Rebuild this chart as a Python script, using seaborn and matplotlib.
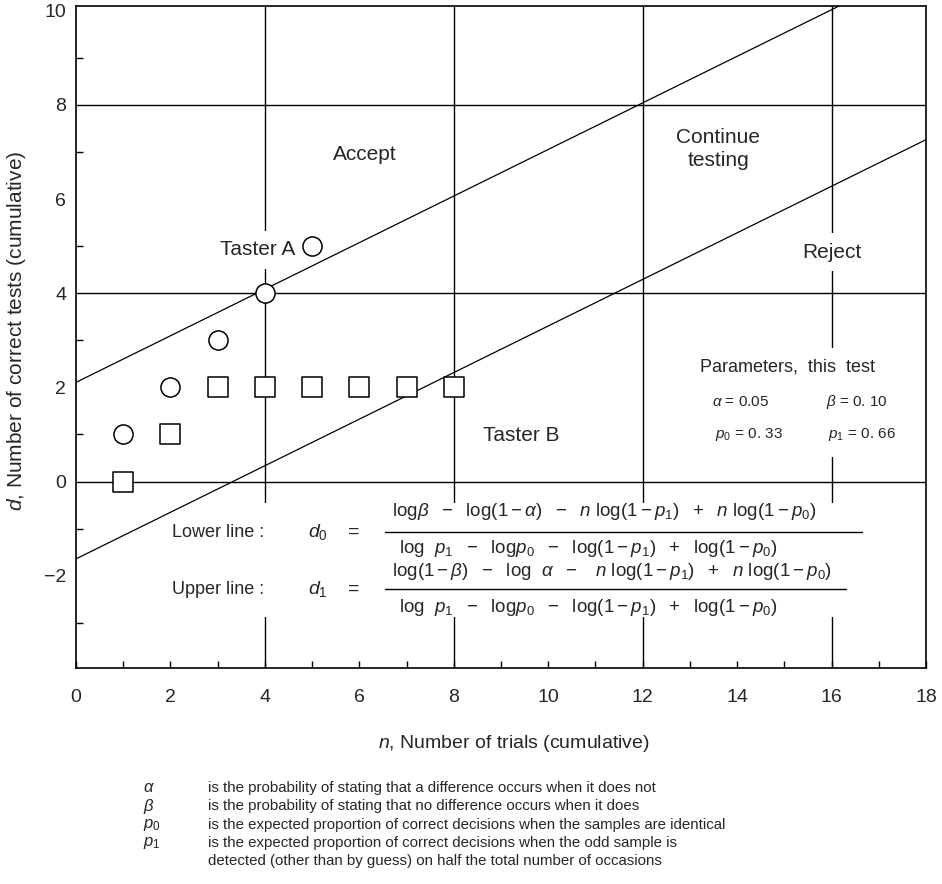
import numpy as np
import pandas as pd
import matplotlib
matplotlib.use("Agg")
import matplotlib.pyplot as plt
from matplotlib.ticker import MultipleLocator, FixedLocator
import seaborn as sns

# Test parameters
alpha = 0.05
beta = 0.10
p0 = 0.33
p1 = 0.66

# Cumulative results of the two tasters
taster_a_trials = [1, 2, 3, 4, 5]
taster_a_correct = [1, 2, 3, 4, 5]
taster_b_trials = [1, 2, 3, 4, 5, 6, 7, 8]
taster_b_correct = [0, 1, 2, 2, 2, 2, 2, 2]

# Axis ticks
x_tick_labels = [0, 2, 4, 6, 8, 10, 12, 14, 16, 18]
y_tick_labels = [-2, 0, 2, 4, 6, 8, 10]
y_minor_ticks = [-3, -2, -1, 1, 3, 5, 7, 9]
x_grid = [4, 8, 12, 16]
y_grid = [0, 4, 8]

sns.set_theme(style="white")
plt.rcParams["font.family"] = ["Liberation Sans", "DejaVu Sans"]
plt.rcParams["mathtext.fontset"] = "custom"
plt.rcParams["mathtext.rm"] = "Liberation Sans"
plt.rcParams["mathtext.it"] = "Liberation Sans:italic"
plt.rcParams["mathtext.bf"] = "Liberation Sans:bold"

# Decision boundaries of the sequential test (log10)
den = np.log10(p1) - np.log10(p0) - np.log10(1 - p1) + np.log10(1 - p0)
slope = (np.log10(1 - p0) - np.log10(1 - p1)) / den
icpt_lower = (np.log10(beta) - np.log10(1 - alpha)) / den
icpt_upper = (np.log10(1 - beta) - np.log10(alpha)) / den
n_ends = np.array([0.0, 18.0])
lines = pd.DataFrame({
    "n": np.concatenate([n_ends, n_ends]),
    "d": np.concatenate([icpt_lower + slope * n_ends, icpt_upper + slope * n_ends]),
    "line": ["lower"] * 2 + ["upper"] * 2,
})

fig = plt.figure(figsize=(9.42, 8.84), dpi=100)
ax = fig.add_axes([0.0807, 0.2443, 0.9023, 0.7489])
ax.set_xlim(0, 18)
ax.set_ylim(-3.96, 10.10)

for x in x_grid:
    ax.axvline(x, color="black", lw=1.0, zorder=1)
for y in y_grid:
    ax.axhline(y, color="black", lw=1.0, zorder=1)

# white masks behind the formula and parameter blocks
ax.axhspan(-2.88, -0.46, xmin=0.17, xmax=0.985, color="white", lw=0, zorder=1.5)
ax.axhspan(0.52, 2.84, xmin=0.74, xmax=0.985, color="white", lw=0, zorder=1.5)

sns.lineplot(data=lines, x="n", y="d", units="line", estimator=None,
             color="black", lw=0.9, ax=ax, zorder=3, legend=False)

sns.scatterplot(x=taster_a_trials, y=taster_a_correct, marker="o", s=190,
                facecolor="white", edgecolor="black", linewidth=1.1, ax=ax, zorder=4)
sns.scatterplot(x=taster_b_trials, y=taster_b_correct, marker="s", s=190,
                facecolor="white", edgecolor="black", linewidth=1.1, ax=ax, zorder=4)

mask = dict(boxstyle="square,pad=0.45", fc="white", ec="none")
big = 15
ax.text(6.12, 6.94, "Accept", fontsize=big, ha="center", va="center", zorder=2)
ax.text(13.6, 7.06, "Continue\ntesting", fontsize=big, ha="center", va="center",
        linespacing=1.25, zorder=2)
ax.text(16.0, 4.87, "Reject", fontsize=big, ha="center", va="center", bbox=mask, zorder=2)
ax.text(3.85, 4.92, "Taster A", fontsize=big, ha="center", va="center", bbox=mask, zorder=2)
ax.text(9.42, 0.97, "Taster B", fontsize=big, ha="center", va="center", zorder=2)

ax.text(15.06, 2.43, "Parameters,  this  test", fontsize=13, ha="center", va="center", zorder=2)
ax.text(14.08, 1.70, r"$\alpha$ = 0.05", fontsize=11, ha="center", va="center", zorder=2)
ax.text(16.54, 1.70, r"$\beta$ = 0. 10", fontsize=11, ha="center", va="center", zorder=2)
ax.text(14.24, 1.0, r"$p_0$ = 0. 33", fontsize=11, ha="center", va="center", zorder=2)
ax.text(16.65, 1.0, r"$p_1$ = 0. 66", fontsize=11, ha="center", va="center", zorder=2)

# Boundary formulas
fs = 13.5
num_lower = (r"$\mathrm{log}\beta\ \ -\ \ \mathrm{log}(1-\alpha)\ \ -\ \ n\ \mathrm{log}(1-p_1)"
             r"\ \ +\ \ n\ \mathrm{log}(1-p_0)$")
num_upper = (r"$\mathrm{log}(1-\beta)\ \ -\ \ \mathrm{log}\ \ \alpha\ \ -\ \ \ n\ \mathrm{log}(1-p_1)"
             r"\ \ +\ \ n\ \mathrm{log}(1-p_0)$")
denom = (r"$\mathrm{log}\ \ p_1\ \ -\ \ \mathrm{log}p_0\ \ -\ \ \mathrm{log}(1-p_1)"
         r"\ \ +\ \ \mathrm{log}(1-p_0)$")

rows = [
    ("Lower line :", r"$d_0$", num_lower, -1.08, -0.63, -1.43, 16.65),
    ("Upper line :", r"$d_1$", num_upper, -2.29, -1.92, -2.67, 16.30),
]
for label, dsym, num, yc, yn, yd, xbar in rows:
    ax.text(2.03, yc, label, fontsize=13, ha="left", va="center", zorder=2)
    ax.text(5.12, yc, dsym, fontsize=14, ha="center", va="center", zorder=2)
    ax.text(5.88, yc, "=", fontsize=14, ha="center", va="center", zorder=2)
    ax.text(6.69, yn, num, fontsize=fs, ha="left", va="center", zorder=2)
    ax.text(6.85, yd, denom, fontsize=fs, ha="left", va="center", zorder=2)
    ax.plot([6.55, xbar], [yc, yc], color="black", lw=1.0, zorder=2)

# Axes styling
ax.xaxis.set_major_locator(FixedLocator(x_tick_labels))
ax.xaxis.set_minor_locator(MultipleLocator(1))
ax.yaxis.set_major_locator(FixedLocator(y_tick_labels))
ax.yaxis.set_minor_locator(FixedLocator(y_minor_ticks))
ax.tick_params(axis="x", which="both", direction="in", length=5, width=1.0,
               color="black", labelsize=14, pad=15, bottom=True)
ax.tick_params(axis="y", which="major", length=0, labelsize=14, pad=7, left=True)
ax.tick_params(axis="y", which="minor", direction="in", length=5, width=1.0,
               color="black", left=True)
for s in ax.spines.values():
    s.set_color("black")
    s.set_linewidth(1.2)

ax.set_xlabel(r"$n$, Number of trials (cumulative)", fontsize=14)
ax.xaxis.set_label_coords(0.515, -0.098)
ax.set_ylabel(r"$d$, Number of correct tests (cumulative)", fontsize=15)
ax.yaxis.set_label_coords(-0.056, 0.51)

# Footnotes
notes = [
    (r"$\alpha$", "is the probability of stating that a difference occurs when it does not"),
    (r"$\beta$", "is the probability of stating that no difference occurs when it does"),
    (r"$p_0$", "is the expected proportion of correct decisions when the samples are identical"),
    (r"$p_1$", "is the expected proportion of correct decisions when the odd sample is"),
    ("", "detected (other than by guess) on half the total number of occasions"),
]
y0 = 1 - 788 / 884
step = 18.3 / 884
for i, (sym, txt) in enumerate(notes):
    yy = y0 - i * step
    if sym:
        fig.text(0.152, yy, sym, fontsize=12, ha="left", va="center")
    fig.text(0.221, yy, txt, fontsize=10.8, ha="left", va="center")

fig.savefig("out.png", dpi=100, facecolor="white")
